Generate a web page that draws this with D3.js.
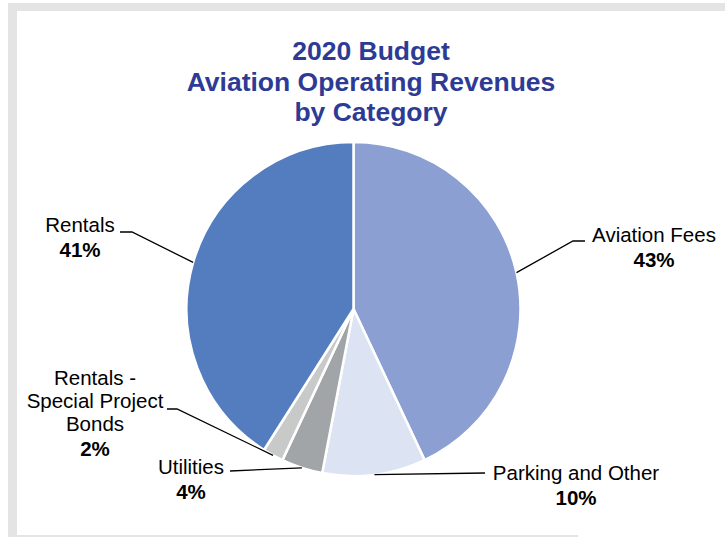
<!DOCTYPE html>
<html>
<head>
<meta charset="utf-8">
<script src="https://cdn.jsdelivr.net/npm/d3@7"></script>
<style>
  html, body { margin: 0; padding: 0; background: #ffffff; }
  svg { display: block; font-family: "Liberation Sans", Arial, sans-serif; }
</style>
</head>
<body>
<svg id="chart" width="725" height="537"></svg>
<script>
// Revenue categories, in clockwise order from 12 o'clock
const categories = ["Aviation Fees", "Parking and Other", "Utilities", "Rentals - Special Project Bonds", "Rentals"];
const shares = [43, 10, 4, 2, 41];
const palette = ["#8c9fd3", "#dce3f2", "#a1a5a8", "#c8cac9", "#537dbf"];
const titleLines = ["2020 Budget", "Aviation Operating Revenues", "by Category"];

// Label text lines for each slice (name lines, then the share)
const labelLines = [
  ["Aviation Fees"],
  ["Parking and Other"],
  ["Utilities"],
  ["Rentals -", "Special Project", "Bonds"],
  ["Rentals"]
];

const svg = d3.select("#chart");
const W = 725, H = 537;

// Framed panel
svg.append("rect").attr("x", 8).attr("y", 3).attr("width", W - 8).attr("height", H - 3).attr("fill", "#e3e4e3");
svg.append("rect").attr("x", 17).attr("y", 11).attr("width", W - 17).attr("height", 524).attr("fill", "#ffffff");
svg.append("rect").attr("x", 578).attr("y", 535).attr("width", W - 578).attr("height", 2).attr("fill", "#ffffff");

// Title
const title = svg.append("text")
  .attr("text-anchor", "middle")
  .attr("fill", "#2e3b95")
  .attr("font-weight", "bold")
  .attr("font-size", 26.5);
titleLines.forEach((t, i) => {
  title.append("tspan").attr("x", 371).attr("y", 60 + i * 30.5).text(t);
});

// Pie
const cx = 353.5, cy = 309, R = 167;
const data = categories.map((c, i) => ({ name: c, value: shares[i], color: palette[i], lines: labelLines[i] }));
const pie = d3.pie().sort(null).value(d => d.value);
const arcs = pie(data);
const arc = d3.arc().innerRadius(0).outerRadius(R);

const g = svg.append("g").attr("transform", `translate(${cx},${cy})`);
g.selectAll("path.slice")
  .data(arcs)
  .join("path")
  .attr("class", "slice")
  .attr("d", arc)
  .attr("fill", d => d.data.color)
  .attr("stroke", "#ffffff")
  .attr("stroke-width", 2.5)
  .attr("stroke-linejoin", "round");

// Label placement: text anchor point, line baselines and leader-line elbow
const labelLayout = [
  { x: 654, y: 242, elbow: [[573, 241], [585, 241]] },
  { x: 576, y: 480, elbow: [[485, 473]] },
  { x: 191, y: 474, elbow: [[230, 471]] },
  { x: 95, y: 385, elbow: [[177, 409], [167, 409]] },
  { x: 80, y: 232, elbow: [[132, 232], [120, 232]] }
];

// Leader lines from the arc midpoint of each slice
const edge = d3.arc().innerRadius(R).outerRadius(R);
arcs.forEach((a, i) => {
  const [mx, my] = edge.centroid(a);
  const pts = [[cx + mx, cy + my]].concat(labelLayout[i].elbow);
  svg.append("path")
    .attr("d", d3.line()(pts))
    .attr("fill", "none")
    .attr("stroke", "#000000")
    .attr("stroke-width", 1.3);
});

// Labels
arcs.forEach((a, i) => {
  const L = labelLayout[i];
  const t = svg.append("text")
    .attr("text-anchor", "middle")
    .attr("fill", "#000000")
    .attr("font-size", 20.5);
  a.data.lines.forEach((line, j) => {
    t.append("tspan").attr("x", L.x).attr("y", L.y + j * 23).text(line);
  });
  t.append("tspan")
    .attr("x", L.x)
    .attr("y", L.y + a.data.lines.length * 23 + 2)
    .attr("font-weight", "bold")
    .text(d3.format(".0f")(a.data.value) + "%");
});
</script>
</body>
</html>
